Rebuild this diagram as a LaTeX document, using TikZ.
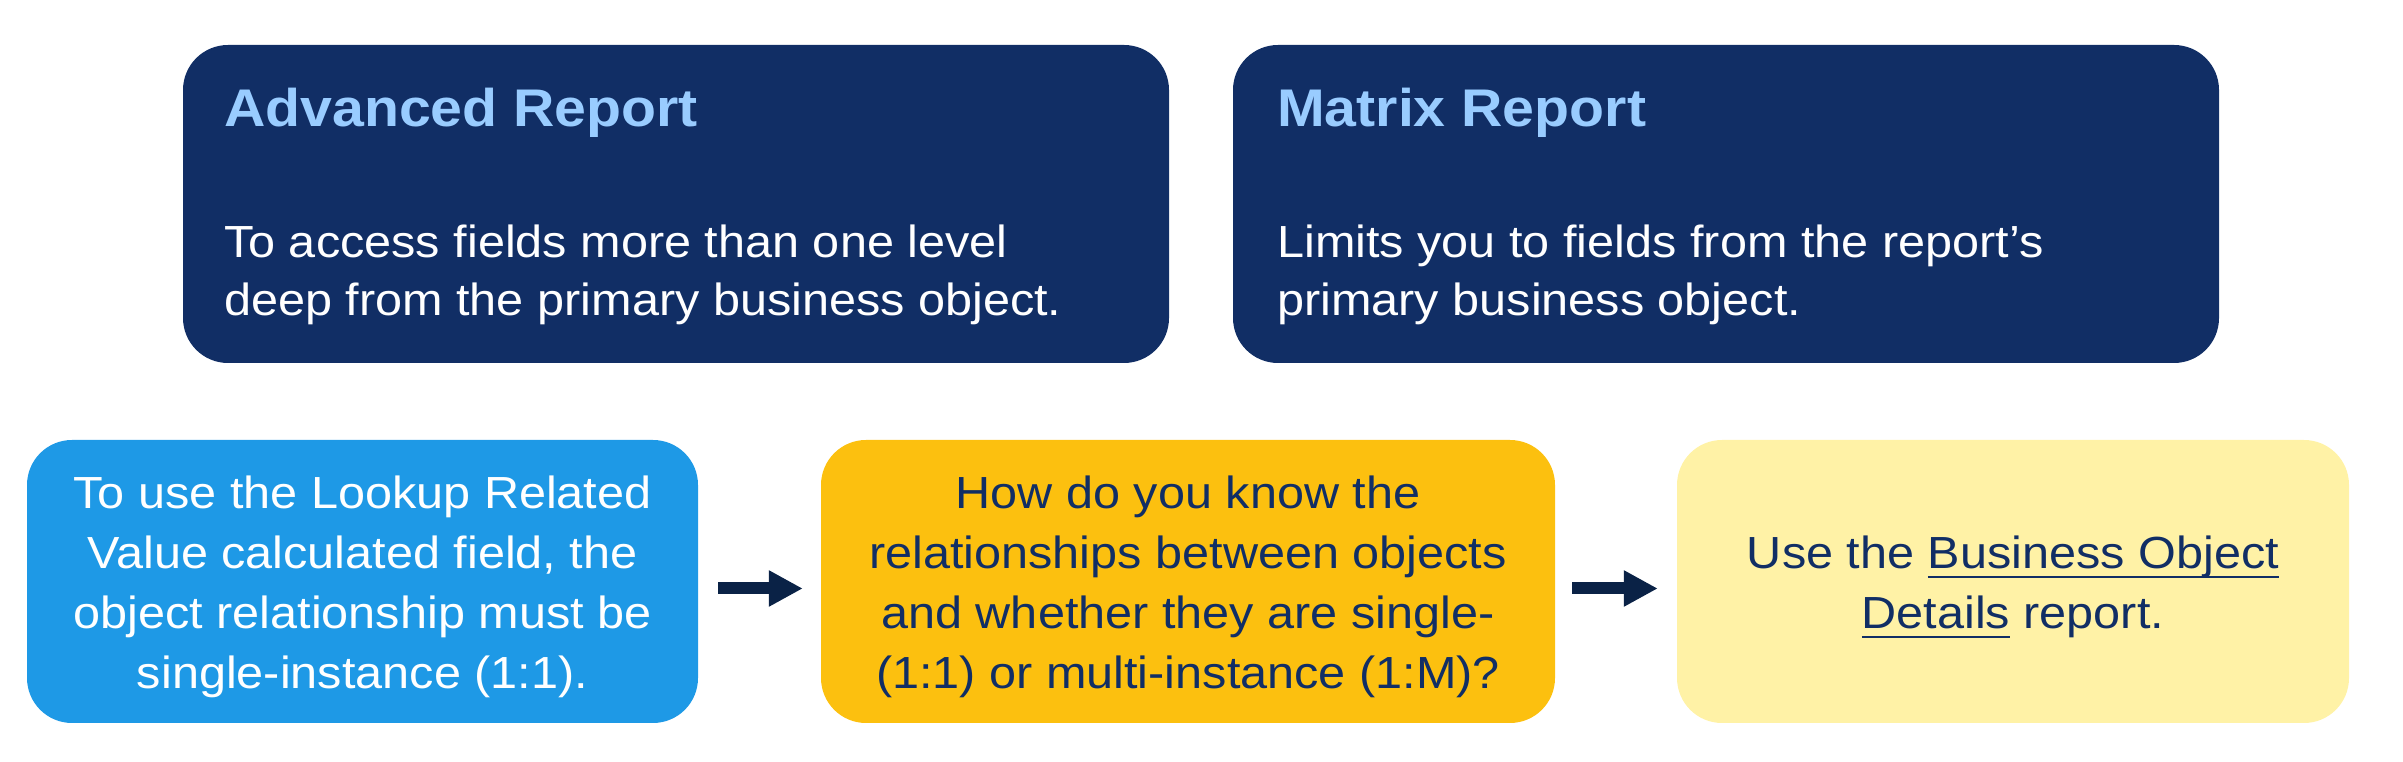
\documentclass[tikz,border=0pt]{standalone}
\usepackage{fontspec}
\setmainfont{Liberation Sans}[FakeStretch=1.08]
\usetikzlibrary{arrows.meta,calc}
\definecolor{navybox}{RGB}{17,46,101}
\definecolor{titleblue}{RGB}{153,204,255}
\definecolor{skyblue}{RGB}{30,153,230}
\definecolor{gold}{RGB}{252,192,15}
\definecolor{paleyellow}{RGB}{255,242,166}
\definecolor{navytext}{RGB}{17,46,101}
\definecolor{arrownavy}{RGB}{10,34,70}
\newcommand{\myul}[1]{\setbox0\hbox{#1}\rlap{\color{navytext}\rule[-10pt]{\wd0}{2.6pt}}\box0\relax}
\tikzset{
  card/.style={rounded corners=45pt, inner sep=0pt, draw=none},
  titletext/.style={anchor=base west, inner sep=0pt, text=titleblue, font={\fontsize{53}{60}\selectfont\bfseries}},
  bodytext/.style={anchor=base west, inner sep=0pt, text=white, align=left, font={\fontsize{45}{58}\selectfont}},
  centertext/.style={inner sep=0pt, align=center, font={\fontsize{45}{60}\selectfont}},
  flowarrow/.style={draw=arrownavy, line width=12pt, -{Triangle[length=34pt,width=34pt]}}
}
\begin{document}
\begin{tikzpicture}[x=1pt,y=1pt]
\useasboundingbox (0,0) rectangle (2403,762);
% top cards
\node[card, fill=navybox, minimum width=986pt, minimum height=318pt] (adv) at (676,558) {};
\node[card, fill=navybox, minimum width=986pt, minimum height=318pt] (mat) at (1726,558) {};
\node[titletext] (advt) at (224,635) {Advanced Report};
\node[titletext] (matt) at (1277,635) {Matrix Report};
\node[bodytext] (advb) at (224,446) {To access fields more than one level\\deep from the primary business object.};
\node[bodytext] (matb) at (1277,446) {Limits you to fields from the report’s\\primary business object.};
% bottom cards
\node[card, fill=skyblue, minimum width=671pt, minimum height=283pt] (lookup) at (362.5,180.5) {};
\node[card, fill=gold, minimum width=734pt, minimum height=283pt] (how) at (1188,180.5) {};
\node[card, fill=paleyellow, minimum width=672pt, minimum height=283pt] (use) at (2013,180.5) {};
\node[centertext, text=white] (lookupt) at (362.5,175) {To use the Lookup Related\\Value calculated field, the\\object relationship must be\\single-instance (1:1).};
\node[centertext, text=navytext] (howt) at (1188,175) {How do you know the\\relationships between objects\\and whether they are single-\\(1:1) or multi-instance (1:M)?};
\node[centertext, text=navytext] (uset) at (2013,175) {Use the \myul{Business Object}\\\myul{Details} report.};
% arrows
\draw[flowarrow, shorten <=20pt, shorten >=18pt] ([yshift=-7pt]lookup.east) -- ([yshift=-7pt]how.west);
\draw[flowarrow, shorten <=17pt, shorten >=19pt] ([yshift=-7pt]how.east) -- ([yshift=-7pt]use.west);
\end{tikzpicture}
\end{document}
